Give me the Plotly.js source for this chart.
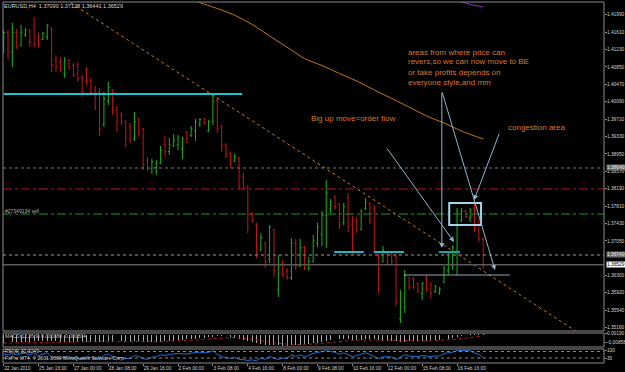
<!DOCTYPE html>
<html><head><meta charset="utf-8">
<script src="https://cdn.plot.ly/plotly-3.0.1.min.js"></script>
<style>html,body{margin:0;padding:0;background:#000;}#chart{width:625px;height:372px;}</style>
</head><body><div id="chart"></div>
<script>
// ---------- DATA (EURUSD H4, 22 Jan 2010 08:00 .. 17 Feb 2010 16:00) ----------
const tickIdx  = [0,8,16,24,32,40,48,56,64,72,80,88,96,104];
const tickText = ["22 Jan 2010","25 Jan 16:00","27 Jan 00:00","28 Jan 08:00","29 Jan 16:00","2 Feb 00:00","3 Feb 08:00","4 Feb 16:00","8 Feb 00:00","9 Feb 08:00","10 Feb 16:00","12 Feb 00:00","15 Feb 08:00","16 Feb 16:00"];

const open = [1.4125,1.4160,1.4118,1.4160,1.4131,1.4155,1.4165,1.4175,1.4150,1.4145,1.4150,
1.4168,1.4100,1.4095,1.4070,1.4100,1.4088,1.4090,1.4062,1.4080,1.4055,1.4035,1.4030,
1.3960,1.4010,1.4035,1.3990,1.3980,1.3965,1.3955,1.3928,1.3965,1.3950,1.3880,
1.3862,1.3865,1.3875,1.3915,1.3900,1.3912,1.3915,1.3905,1.3942,1.3935,1.3945,
1.3960,1.3972,1.3945,1.3965,1.4012,1.3955,1.3915,1.3895,1.3878,
1.3885,1.3845,1.3822,1.3762,1.3740,1.3685,1.3700,1.3665,1.3730,1.3598,1.3655,1.3640,1.3625,
1.3700,1.3650,1.3690,1.3645,1.3660,1.3700,1.3720,1.3760,1.3775,1.3800,1.3785,1.3745,1.3800,1.3740,
1.3750,1.3730,1.3775,1.3785,1.3775,1.3680,1.3660,1.3678,1.3675,1.3670,1.3535,
1.3560,1.3625,1.3622,1.3612,1.3590,1.3625,1.3610,1.3595,1.3592,1.3615,1.3640,1.3650,1.3685,1.3750,1.3770,1.3755,1.3775,1.3738,1.37090];
const high = [1.41656,1.41656,1.41809,1.41678,1.41765,1.41699,1.41678,1.41940,1.41590,1.41612,1.41787,
1.41721,1.41110,1.41066,1.41066,1.41022,1.40935,1.40957,1.40673,1.40848,1.40608,1.40433,1.40389,
1.40302,1.40520,1.40367,1.39996,1.39865,1.39690,1.39625,1.39865,1.39755,1.39515,1.38882,
1.38838,1.38817,1.39123,1.39341,1.39297,1.39385,1.39363,1.39319,1.39450,1.39559,1.39712,
1.39734,1.39734,1.39690,1.40258,1.40193,1.39581,1.39188,1.38991,1.38948,
1.38882,1.38533,1.38271,1.37680,1.37441,1.37222,1.37026,1.37397,1.37310,1.36742,1.36633,1.36458,1.37113,
1.37092,1.37092,1.36938,1.36698,1.37179,1.37441,1.37703,1.38380,1.37965,1.38053,1.37877,1.37877,1.38096,1.37594,
1.37550,1.37746,1.37987,1.37899,1.37834,1.36807,1.36938,1.36807,1.36785,1.36764,1.35977,
1.36414,1.36261,1.36261,1.36152,1.36152,1.36305,1.36152,1.36087,1.36043,1.36502,1.36807,1.36960,1.37768,1.37768,1.37725,1.37768,1.38000,1.37507,1.37128];
const low = [1.41153,1.41022,1.40848,1.41241,1.41306,1.41503,1.41285,1.41285,1.41285,1.41437,1.41437,
1.40739,1.40739,1.40739,1.40608,1.40782,1.40629,1.40520,1.40193,1.40455,1.40236,1.39909,1.39341,
1.39537,1.40018,1.39799,1.39428,1.39581,1.39101,1.39188,1.39232,1.39319,1.38598,1.38576,
1.38511,1.38489,1.38729,1.38882,1.38926,1.39101,1.39035,1.38838,1.39188,1.39319,1.39232,
1.39537,1.39581,1.39428,1.39581,1.39406,1.38991,1.38860,1.38642,1.38773,
1.38184,1.38162,1.37222,1.37450,1.36676,1.36829,1.36458,1.36567,1.36261,1.35825,1.36261,1.36196,1.36196,
1.36414,1.36480,1.36414,1.36393,1.36589,1.36916,1.36938,1.36895,1.37659,1.37725,1.37310,1.37397,1.37244,1.36742,
1.37222,1.37288,1.37725,1.37419,1.36807,1.35912,1.36589,1.36523,1.36545,1.35628,1.35257,
1.35475,1.35977,1.35999,1.35912,1.35759,1.35934,1.35781,1.35912,1.35869,1.36130,1.36327,1.36414,1.36305,1.37463,1.37550,1.37463,1.37244,1.37026,1.36441];
const close = [1.4160,1.4118,1.4160,1.4130,1.4160,1.4165,1.4140,1.4135,1.4135,1.4158,1.4175,
1.4090,1.4085,1.4080,1.4100,1.4085,1.4068,1.4060,1.4030,1.4055,1.4030,1.3995,1.3950,
1.4015,1.4040,1.3990,1.3965,1.3965,1.3930,1.3925,1.3965,1.3945,1.3870,1.3862,
1.3878,1.3875,1.3902,1.3900,1.3915,1.3925,1.3930,1.3928,1.3928,1.3950,1.3965,
1.3970,1.3962,1.3965,1.4010,1.3950,1.3915,1.3895,1.3875,1.3888,
1.3825,1.3820,1.3762,1.3750,1.3675,1.3712,1.3660,1.3735,1.3640,1.3650,1.3630,1.3625,1.3700,
1.3650,1.3690,1.3645,1.3660,1.3705,1.3735,1.3760,1.3810,1.3790,1.3780,1.3740,1.3780,1.3735,1.3690,
1.3730,1.3770,1.3790,1.3750,1.3690,1.3615,1.3685,1.3660,1.3660,1.3570,1.3590,
1.3630,1.3605,1.3605,1.3595,1.3612,1.3600,1.3590,1.3605,1.3600,1.3645,1.3670,1.3690,1.3770,1.3770,1.3758,1.3772,1.3735,1.3709,1.36529];

// long moving average (orange) and short piece of a second MA (purple), read at bar indices
const maIdx = [44,45,49,53,57,61,66,69,73,77,81,85,89,93,97,101,105,110];
const maVal = [1.4230,1.42254,1.42125,1.41977,1.41776,1.41525,1.41219,1.41033,1.40880,1.40706,1.40542,1.40345,1.40160,1.39974,1.39778,1.39625,1.39450,1.39275];
const ma2Idx = [104,107,110];
const ma2Val = [1.4230,1.42215,1.42158];

// MACD(12,26,9): histogram and signal
const macdMain = [-0.0082,-0.0080,-0.0078,-0.0077,-0.0075,-0.0073,-0.0072,-0.0070,-0.0069,-0.0068,-0.0066,
-0.0068,-0.0070,-0.0071,-0.0071,-0.0071,-0.0071,-0.0071,-0.0073,-0.0072,-0.0072,-0.0074,-0.0078,
-0.0075,-0.0070,-0.0070,-0.0070,-0.0069,-0.0071,-0.0072,-0.0068,-0.0066,-0.0071,-0.0075,
-0.0076,-0.0076,-0.0072,-0.0068,-0.0064,-0.0060,-0.0056,-0.0053,-0.0049,-0.0044,-0.0039,
-0.0034,-0.0030,-0.0027,-0.0018,-0.0015,-0.0016,-0.0020,-0.0026,-0.0030,
-0.0040,-0.0050,-0.0065,-0.0078,-0.0090,-0.0097,-0.0104,-0.0104,-0.0110,-0.0112,-0.0113,-0.0114,-0.0110,
-0.0107,-0.0102,-0.0099,-0.0096,-0.0090,-0.0082,-0.0073,-0.0062,-0.0055,-0.0050,-0.0049,-0.0045,-0.0046,-0.0050,
-0.0052,-0.0050,-0.0045,-0.0045,-0.0049,-0.0058,-0.0060,-0.0062,-0.0063,-0.0070,-0.0075,
-0.0072,-0.0070,-0.0068,-0.0066,-0.0064,-0.0060,-0.0058,-0.0055,-0.0052,-0.0047,-0.0040,-0.0032,-0.0018,-0.0008,-0.0001,0.0005,0.0008,0.0008,0.0004];
const macdSignal = [-0.0088,-0.0087,-0.0086,-0.0085,-0.0084,-0.0082,-0.0081,-0.0079,-0.0078,-0.0076,-0.0075,
-0.0074,-0.0073,-0.0073,-0.0072,-0.0072,-0.0072,-0.0071,-0.0071,-0.0071,-0.0071,-0.0071,-0.0072,
-0.0073,-0.0072,-0.0072,-0.0071,-0.0071,-0.0071,-0.0071,-0.0070,-0.0069,-0.0069,-0.0070,
-0.0071,-0.0072,-0.0072,-0.0071,-0.0070,-0.0068,-0.0066,-0.0064,-0.0061,-0.0058,-0.0055,
-0.0051,-0.0047,-0.0043,-0.0038,-0.0034,-0.0031,-0.0029,-0.0028,-0.0029,
-0.0031,-0.0035,-0.0041,-0.0048,-0.0057,-0.0065,-0.0072,-0.0078,-0.0085,-0.0090,-0.0094,-0.0098,-0.0100,
-0.0101,-0.0101,-0.0101,-0.0100,-0.0098,-0.0095,-0.0090,-0.0085,-0.0079,-0.0073,-0.0068,-0.0064,-0.0060,-0.0058,
-0.0056,-0.0055,-0.0053,-0.0051,-0.0050,-0.0051,-0.0053,-0.0055,-0.0057,-0.0059,-0.0062,
-0.0064,-0.0066,-0.0066,-0.0066,-0.0066,-0.0065,-0.0064,-0.0062,-0.0060,-0.0058,-0.0055,-0.0051,-0.0046,-0.0040,-0.0034,-0.0028,-0.0022,-0.0017,-0.0013];

// RSI(6)
const rsi = [55,48,58,50,57,60,50,60,45,52,62,
35,30,28,40,36,32,30,25,38,32,28,25,
45,55,38,32,33,27,26,45,40,25,22,
35,38,50,45,52,56,58,55,55,60,64,
66,62,64,75,52,38,32,28,33,
22,20,15,18,14,30,22,40,28,20,30,27,48,
40,50,38,45,58,64,68,75,70,65,52,62,50,38,
45,55,62,52,38,25,38,36,36,20,35,
50,42,42,38,45,40,38,42,43,58,63,66,76,76,74,75,60,52,32.3249];

// price scale labels
const yTickVals = [1.41990,1.41610,1.41230,1.40850,1.40470,1.40090,1.39710,1.39330,1.38950,1.38570,1.38190,1.37810,1.37430,1.37050,1.36300,1.35920,1.35540,1.35160];

// chart objects (levels in price, trend line in bar index / price)
const resistanceLevel = 1.40258;
const upperDotLevel = 1.38642, stopLevel = 1.38184, sellLevel = 1.37637, lowerDotLevel = 1.36744, bidLevel = 1.36529;
const supportLevel = 1.36807, congestionLow = 1.36305;
const trendX = [15.44, 131.2], trendY = [1.42245, 1.35082];

// ---------- LAYOUT HELPERS (pixel -> paper) ----------
const L=3, R=604, T=2, B=363;
const px = x => (x-L)/(R-L);
const py = y => (B-y)/(B-T);
const FONT = "Liberation Sans, Arial, sans-serif";
const barIndex = open.map((_, i) => i);

const traces = [
  {type:'ohlc', x:barIndex, open:open, high:high, low:low, close:close, xaxis:'x', yaxis:'y',
   increasing:{line:{color:'#18b418', width:1}}, decreasing:{line:{color:'#c81414', width:1}},
   tickwidth:0.3, hoverinfo:'skip'},
  {type:'scatter', mode:'lines', x:maIdx, y:maVal, yaxis:'y', line:{color:'#c4741c', width:1, shape:'spline'}, hoverinfo:'skip'},
  {type:'scatter', mode:'lines', x:ma2Idx, y:ma2Val, yaxis:'y', line:{color:'#9030c8', width:1}, hoverinfo:'skip'},
  {type:'scatter', mode:'lines', x:trendX, y:trendY, yaxis:'y', line:{color:'#c8781e', width:1, dash:'dot'}, hoverinfo:'skip'},
  {type:'bar', x:barIndex, y:macdMain, yaxis:'y2', width:0.22, marker:{color:'#a8a8a8', line:{width:0}}, hoverinfo:'skip'},
  {type:'scatter', mode:'lines', x:barIndex, y:macdSignal, yaxis:'y2', line:{color:'#c01818', width:1, dash:'dot'}, hoverinfo:'skip'},
  {type:'scatter', mode:'lines', x:barIndex, y:rsi, yaxis:'y3', line:{color:'#1f6fd0', width:1}, hoverinfo:'skip'}
];

const tickFont = {family:FONT, size:4.8, color:'#d0d0d0'};
const yCommon = {side:'right', ticks:'outside', ticklen:2, tickcolor:'#8c8c8c', tickfont:tickFont, ticklabelstandoff:-1,
  showgrid:false, zeroline:false, showline:false, automargin:false, fixedrange:true};

const hline = (yref, y, color, dash, width) => ({type:'line', xref:'paper', x0:0, x1:1, yref:yref, y0:y, y1:y, line:{color:color, dash:dash, width:width}});
const seg = (x0, x1, y, color, width) => ({type:'line', xref:'x', yref:'y', x0:x0, x1:x1, y0:y, y1:y, line:{color:color, width:width}});
const frame = ref => ({type:'rect', xref:'paper', yref:ref, x0:0, x1:1, y0:0, y1:1, line:{color:'#8c8c8c', width:1}});

const shapes = [
  hline('y', upperDotLevel, '#7a7a7a', 'dot', 1),
  hline('y', stopLevel, '#b01818', 'dashdot', 1),
  hline('y', sellLevel, '#1a9a1a', 'dashdot', 1),
  hline('y', lowerDotLevel, '#6a6a6a', 'dot', 1.5),
  hline('y', bidLevel, '#5a5a5a', 'solid', 1.5),
  seg(0, 54.7, resistanceLevel, '#19c3d2', 2),
  seg(75.8, 82.6, supportLevel, '#1fb8c0', 2),
  seg(84.9, 91.8, supportLevel, '#1fb8c0', 2),
  seg(99.8, 104.7, supportLevel, '#1aa4a8', 2),
  seg(91.8, 116.1, congestionLow, '#8fa6b8', 1),
  {type:'rect', xref:'x', yref:'y', x0:102.2, x1:109.5, y0:1.37397, y1:1.37877, line:{color:'#a8d4ea', width:2}},
  hline('y3', 70, '#8a8a8a', 'dot', 1),
  hline('y3', 30, '#8a8a8a', 'dot', 1),
  frame('y domain'), frame('y2 domain'), frame('y3 domain')
];

const arrow = (x0, y0, x1, y1) => ({xref:'x', yref:'y', axref:'x', ayref:'y', x:x1, y:y1, ax:x0, ay:y0,
  text:'', showarrow:true, arrowhead:2, arrowsize:1, arrowwidth:1, arrowcolor:'#8fb3c8', standoff:0, startstandoff:0});
const note = (x, y, text, size, color) => ({xref:'paper', yref:'paper', x:px(x), y:py(y), xanchor:'left', yanchor:'middle',
  text:text, showarrow:false, font:{family:FONT, size:size, color:color}, borderpad:0});
const priceTag = (y, text, bg, fg) => ({xref:'paper', yref:'y', x:1, y:y, xanchor:'left', yanchor:'middle', xshift:2,
  text:text, showarrow:false, bgcolor:bg, font:{family:FONT, size:4.8, color:fg}, borderpad:0});

const ORANGE = '#d8782a';
const annotations = [
  arrow(87.7, 1.39101, 103.3, 1.37026),
  arrow(100.5, 1.40324, 100.5, 1.36895),
  arrow(100.5, 1.40324, 112.7, 1.36414),
  arrow(113.8, 1.39428, 107.9, 1.37943),
  note(3, 6, 'EURUSD,H4  1.37090 1.37128 1.36441 1.36529', 5.5, '#d8d8d8'),
  note(407, 52, 'areas from where price can', 8, ORANGE),
  note(407, 62, 'revers,so we can now move to BE', 8, ORANGE),
  note(407, 72, 'or take profits depends on', 8, ORANGE),
  note(407, 83, 'everyone style,and mm', 8, ORANGE),
  note(310, 118, 'Big up move=order flow', 8, ORANGE),
  note(507, 127, 'congestion area', 8, ORANGE),
  note(4, 211, '#27349134 sell', 5, '#b0b0b0'),
  note(4, 336, 'MACD(12,26,9) 0.000888 -0.000804', 5, '#c8c8c8'),
  note(4, 351, 'RSI(6) 32.3249', 5, '#c8c8c8'),
  note(4, 358, 'FxPro MT4, \u00a9 2001-2009 MetaQuotes Software Corp.', 5, '#c8c8c8'),
  priceTag(upperDotLevel, '1.38640', '#6e6e6e', '#e0e0e0'),
  priceTag(lowerDotLevel, '1.36740', '#6e6e6e', '#e0e0e0'),
  priceTag(bidLevel, '1.36529', '#ffffff', '#000000')
];

const layout = {
  width:625, height:372, paper_bgcolor:'#000000', plot_bgcolor:'#000000',
  margin:{l:L, r:625-R, t:T, b:372-B}, showlegend:false, hovermode:false, bargap:0,
  xaxis:{type:'linear', range:[-0.15, 137.7], anchor:'y3', tickvals:tickIdx, ticktext:tickText, tickangle:0,
    ticklabelposition:'outside right', ticks:'outside', ticklen:2, tickcolor:'#8c8c8c', tickfont:tickFont,
    showgrid:false, zeroline:false, showline:false, rangeslider:{visible:false}, automargin:false, fixedrange:true},
  yaxis: Object.assign({}, yCommon, {domain:[py(331), 1], range:[1.35082, 1.42267],
    tickvals:yTickVals, ticktext:yTickVals.map(v => v.toFixed(5))}),
  yaxis2: Object.assign({}, yCommon, {domain:[py(347), py(333)], range:[-0.0128, 0.0019],
    tickvals:[0.0017, -0.0077], ticktext:['0.00190', '-0.00858']}),
  yaxis3: Object.assign({}, yCommon, {domain:[0, py(349)], range:[-0.8, 85.4],
    tickvals:[76, 30], ticktext:['100', '30']}),
  shapes:shapes, annotations:annotations
};

Plotly.newPlot('chart', traces, layout, {staticPlot:true, displayModeBar:false});
</script>
</body></html>
